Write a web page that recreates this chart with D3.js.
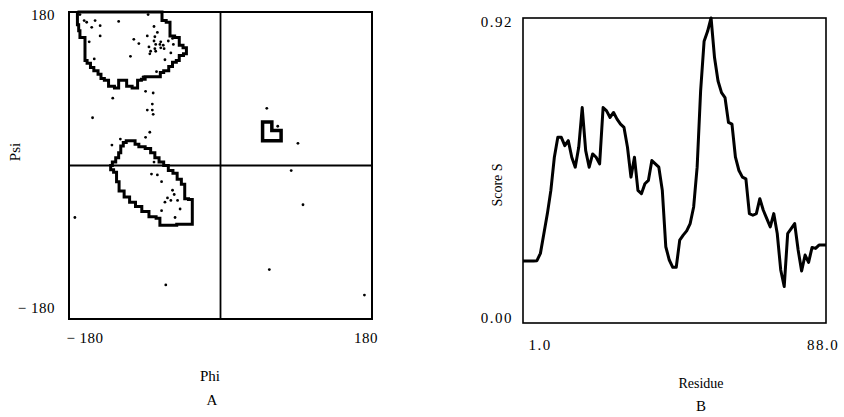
<!DOCTYPE html>
<html><head><meta charset="utf-8">
<script src="https://cdn.jsdelivr.net/npm/d3@7"></script>
<style>
body{margin:0;background:#fff;}
svg{display:block;}
text{font-family:"Liberation Serif","Times New Roman",serif;fill:#000;}
</style></head>
<body>
<svg id="chart" width="844" height="417"></svg>
<script>
// ---- Panel A data (Ramachandran plot) ----
const phiTicks = [-180, 180];
const psiTicks = [-180, 180];
const regionBeta = [[-170,180],[-170,165],[-167,158],[-167,150],[-161,150],[-161,123],[-156,120],[-153,115],[-148,111],[-143,107],[-141,102],[-135,100],[-131,93],[-121,91],[-121,100],[-112,100],[-111,93],[-99,91],[-98,100],[-90,101],[-89,104],[-72,104],[-71,109],[-64,111],[-59,116],[-55,121],[-50,123],[-48,129],[-40,131],[-41,138],[-48,141],[-50,150],[-59,152],[-61,168],[-68,170],[-71,180]];
const regionAlpha = [[-111,29],[-103,29],[-100,25],[-94,22],[-85,20],[-81,15],[-75,9],[-71,4],[-64,0],[-60,-6],[-53,-9],[-50,-16],[-43,-22],[-42,-39],[-34,-40],[-33,-69],[-71,-70],[-73,-62],[-80,-60],[-90,-54],[-97,-48],[-105,-43],[-111,-37],[-118,-30],[-123,-19],[-124,-8],[-130,-5],[-131,0],[-126,4],[-123,9],[-119,15],[-118,23],[-113,27]];
const regionL = [[50,51],[61,51],[61,41],[72,41],[72,29],[50,29]];
const phiValues = [-167,-162,-159,-153,-149,-143,-121,-86,-79,-75,-87,-78,-143,-156,-103,-97,-79,-71,-62,-77,-72,-68,-85,-78,-71,-67,-83,-77,-84,-59,-56,-57,-107,-150,-66,-76,-92,-89,-80,-128,-81,-87,-81,-80,-152,-84,-89,-119,-129,-79,-82,-75,-70,-57,-55,-63,-59,-51,-66,-48,-70,-54,-173,-65,55,68,92,84,98,58,171];
const psiValues = [177,170,168,162,170,164,169,177,163,156,152,151,152,145,148,143,146,145,146,142,142,141,139,137,138,137,134,134,131,132,142,149,128,125,124,110,104,87,85,79,72,65,65,60,56,39,33,31,24,4,-10,-11,-19,-29,-34,-38,-41,-41,-43,-51,-53,-61,-61,-140,67,46,26,-6,-46,-122,-152];

// ---- Panel B data (score profile) ----
const residueTicks = [1, 88];
const scoreTicks = [0, 0.92];
const residues = d3.range(1, 89);
const scores = [0.187,0.187,0.187,0.187,0.188,0.21,0.27,0.33,0.40,0.50,
0.56,0.56,0.535,0.55,0.50,0.47,0.53,0.65,0.52,0.47,
0.51,0.50,0.48,0.65,0.64,0.62,0.635,0.615,0.60,0.59,
0.53,0.44,0.50,0.40,0.39,0.42,0.43,0.49,0.48,0.47,
0.40,0.23,0.19,0.168,0.168,0.25,0.265,0.278,0.30,0.35,
0.47,0.70,0.85,0.88,0.92,0.80,0.73,0.695,0.68,0.605,
0.60,0.50,0.46,0.44,0.435,0.33,0.325,0.33,0.375,0.34,
0.315,0.29,0.33,0.27,0.16,0.11,0.27,0.285,0.30,0.22,
0.157,0.205,0.183,0.228,0.225,0.235,0.235,0.235];

const svg = d3.select("#chart");

// ===== Panel A =====
const xA = d3.scaleLinear().domain([-180,180]).range([69,372]);
const yA = d3.scaleLinear().domain([-180,180]).range([319,12]);
const gA = svg.append("g");

const stepLine = d3.line().x(d=>xA(d[0])).y(d=>yA(d[1])).curve(d3.curveStep);
const linLine = d3.line().x(d=>xA(d[0])).y(d=>yA(d[1]));

// crosshair
gA.append("line").attr("x1",xA(-180)).attr("x2",xA(180)).attr("y1",yA(0)).attr("y2",yA(0))
  .attr("stroke","#000").attr("stroke-width",2.2);
gA.append("line").attr("x1",xA(0)).attr("x2",xA(0)).attr("y1",yA(-180)).attr("y2",yA(180))
  .attr("stroke","#000").attr("stroke-width",1.8);

// regions
[regionBeta, regionAlpha].forEach(r=>{
  gA.append("path").attr("d", stepLine(r.concat([r[0]])))
    .attr("fill","none").attr("stroke","#000").attr("stroke-width",3).attr("stroke-linejoin","miter");
});
gA.append("path").attr("d", linLine(regionL)+"Z")
  .attr("fill","none").attr("stroke","#000").attr("stroke-width",3.5);

// points
gA.selectAll("circle.pt").data(phiValues.map((p,i)=>[p,psiValues[i]])).join("circle")
  .attr("class","pt").attr("cx",d=>xA(d[0])).attr("cy",d=>yA(d[1])).attr("r",1.4).attr("fill","#000");

// frame
gA.append("rect").attr("x",xA(-180)).attr("y",yA(180)).attr("width",xA(180)-xA(-180)).attr("height",yA(-180)-yA(180))
  .attr("fill","none").attr("stroke","#000").attr("stroke-width",2);

const fmtA = d => d < 0 ? "\u2212 " + Math.abs(d) : String(d);
gA.selectAll("text.yt").data(psiTicks).join("text").attr("class","yt")
  .attr("x", xA(-180)-14).attr("y", d => d>0 ? yA(d)+8 : yA(d)-6)
  .attr("text-anchor","end").attr("font-size",15).attr("letter-spacing",0.5).text(fmtA);
gA.selectAll("text.xt").data(phiTicks).join("text").attr("class","xt")
  .attr("x", d => d<0 ? xA(d)+16 : xA(d)-6).attr("y", yA(-180)+24)
  .attr("text-anchor","middle").attr("font-size",15).attr("letter-spacing",0.5).text(fmtA);
gA.append("text").attr("x",210).attr("y",381).attr("text-anchor","middle").attr("font-size",15).text("Phi");
gA.append("text").attr("x",212).attr("y",405).attr("text-anchor","middle").attr("font-size",15).text("A");
gA.append("text").attr("transform","translate(20,152) rotate(-90)").attr("text-anchor","middle").attr("font-size",15).text("Psi");

// ===== Panel B =====
const xB = d3.scaleLinear().domain([1,88]).range([523,826]);
const yB = d3.scaleLinear().domain([0,0.92]).range([323,18]);
const gB = svg.append("g");

gB.append("path").datum(residues.map((r,i)=>[r,scores[i]]))
  .attr("d", d3.line().x(d=>xB(d[0])).y(d=>yB(d[1])))
  .attr("fill","none").attr("stroke","#000").attr("stroke-width",3).attr("stroke-linejoin","round");

gB.append("rect").attr("x",xB(1)).attr("y",yB(0.92)).attr("width",xB(88)-xB(1)).attr("height",yB(0)-yB(0.92))
  .attr("fill","none").attr("stroke","#000").attr("stroke-width",1.6);

gB.selectAll("text.yt").data(scoreTicks).join("text").attr("class","yt")
  .attr("x", xB(1)-10).attr("y", d => d>0 ? yB(d)+9 : yB(d)+0)
  .attr("text-anchor","end").attr("font-size",15).attr("letter-spacing",1.5).text(d=>d.toFixed(2));
gB.selectAll("text.xt").data(residueTicks).join("text").attr("class","xt")
  .attr("x", d => d===1 ? xB(d)+17 : xB(d)-3).attr("y", yB(0)+27)
  .attr("text-anchor","middle").attr("font-size",15).attr("letter-spacing",1.5).text(d=>d.toFixed(1));
gB.append("text").attr("x",701).attr("y",388).attr("text-anchor","middle").attr("font-size",14).text("Residue");
gB.append("text").attr("x",701).attr("y",411).attr("text-anchor","middle").attr("font-size",15).text("B");
gB.append("text").attr("transform","translate(502,185) rotate(-90)").attr("text-anchor","middle").attr("font-size",14).text("Score S");
</script>
</body></html>
